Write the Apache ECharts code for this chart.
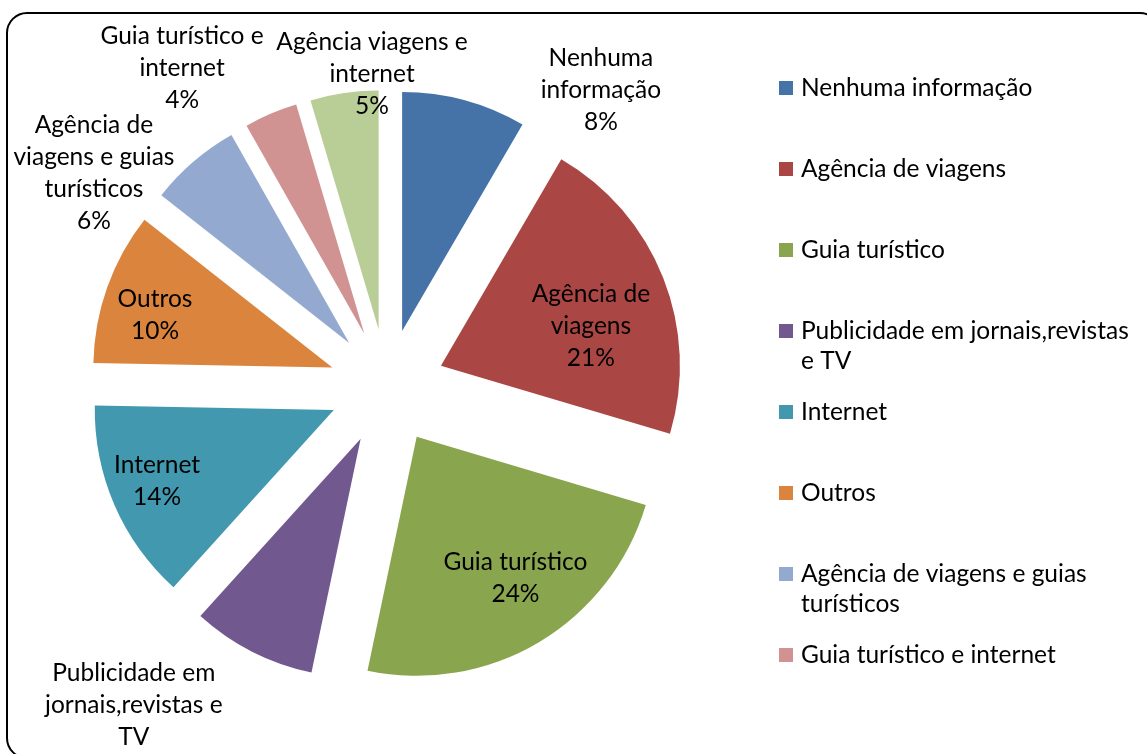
<!DOCTYPE html>
<html><head><meta charset="utf-8">
<script src="https://cdn.jsdelivr.net/npm/echarts@6/dist/echarts.min.js"></script>
<style>html,body{margin:0;padding:0;background:#fff}#c{width:1147px;height:754px}</style>
</head><body><div id="c"></div>
<script>
// ---- data ----
const categories = ['Nenhuma informação','Agência de viagens','Guia turístico','Publicidade em jornais,revistas e TV','Internet','Outros','Agência de viagens e guias turísticos','Guia turístico e internet','Agência viagens e internet'];
const values = [8.4, 21.2, 23.7, 8.4, 13.6, 10.3, 6.2, 3.6, 4.6];
const labelNames = ['Nenhuma\ninformação','Agência de\nviagens','Guia turístico','Publicidade em\njornais,revistas e\nTV','Internet','Outros','Agência de\nviagens e guias\nturísticos','Guia turístico e\ninternet','Agência viagens e\ninternet'];
const legendNames = ['Nenhuma informação\n ','Agência de viagens\n ','Guia turístico\n ','Publicidade em jornais,revistas\ne TV','Internet\n ','Outros\n ','Agência de viagens e guias\nturísticos','Guia turístico e internet\n '];
const legendCount = 8;

// ---- styles / layout ----
const colors = ['#4572A7','#AA4643','#89A54E','#71588F','#4198AF','#DB843D','#93A9CF','#D19392','#B9CD96'];
const CX = 387, CY = 387, R = 239, EXPLODE = 58;
const FONT = 'Lato';
const FS = 24.5;
// label placement: distance from exploded slice origin (fraction of R) and angular shift (deg)
const labelRadius = [1.307, 0.649, 0.721, 1.515, 0.797, 0.774, 1.284, 1.348, 1.07];
const labelShift = [24.4, 6.8, -4.2, 11.8, 1.5, -3.1, -15.6, -11.4, 6.8];

const total = values.reduce((a, b) => a + b, 0);
const midAngles = [];
let acc = 0;
values.forEach(v => { midAngles.push((acc + v / 2) / total * 360); acc += v; });

const chart = echarts.init(document.getElementById('c'), null, {renderer: 'canvas'});
chart.setOption({
  animation: false,
  backgroundColor: '#fff',
  color: colors,
  graphic: [{
    type: 'rect', z: -1,
    shape: {x: 7, y: 13, width: 1153, height: 745, r: 20},
    style: {fill: 'none', stroke: '#000', lineWidth: 2}
  }],
  legend: {
    orient: 'vertical', left: 774, top: 68,
    itemWidth: 14, itemHeight: 44, itemGap: 21,
    icon: 'path://M0,0L14,0L14,14L0,14Z M0,44L0.01,44L0,44.01Z',
    data: categories.slice(0, legendCount),
    formatter: name => legendNames[categories.indexOf(name)],
    textStyle: {fontFamily: FONT, fontSize: FS, lineHeight: 30, color: '#000', padding: [0, 0, 0, 3]},
    itemStyle: {borderWidth: 0},
    selectedMode: false
  },
  series: [{
    // exploded slices
    type: 'pie',
    center: [CX, CY], radius: R,
    startAngle: 90, clockwise: true,
    selectedMode: 'multiple', selectedOffset: EXPLODE,
    avoidLabelOverlap: false,
    itemStyle: {borderWidth: 0},
    select: {itemStyle: {borderWidth: 0}},
    emphasis: {disabled: true},
    label: {show: false}, labelLine: {show: false},
    data: categories.map((c, i) => ({name: c, value: values[i], selected: true}))
  }, {
    // data labels (transparent carrier)
    type: 'pie',
    center: [CX, CY], radius: R,
    startAngle: 90, clockwise: true,
    silent: true, selectedMode: false,
    avoidLabelOverlap: false,
    itemStyle: {color: 'rgba(0,0,0,0)', borderWidth: 0},
    emphasis: {disabled: true},
    labelLine: {show: false},
    label: {
      show: true, position: 'inside',
      fontFamily: FONT, fontSize: FS, lineHeight: 32, color: '#000',
      textBorderWidth: 0, align: 'center',
      formatter: p => labelNames[p.dataIndex] + '\n' + Math.round(p.value / total * 100) + '%'
    },
    labelLayout: p => {
      const i = p.dataIndex;
      const a0 = midAngles[i] * Math.PI / 180;
      const ox = CX + EXPLODE * Math.sin(a0), oy = CY - EXPLODE * Math.cos(a0);
      const a = (midAngles[i] + labelShift[i]) * Math.PI / 180;
      const d = labelRadius[i] * R;
      return {x: ox + d * Math.sin(a), y: oy - d * Math.cos(a), align: 'center', verticalAlign: 'middle'};
    },
    data: categories.map((c, i) => ({name: c, value: values[i]}))
  }]
});
</script></body></html>
